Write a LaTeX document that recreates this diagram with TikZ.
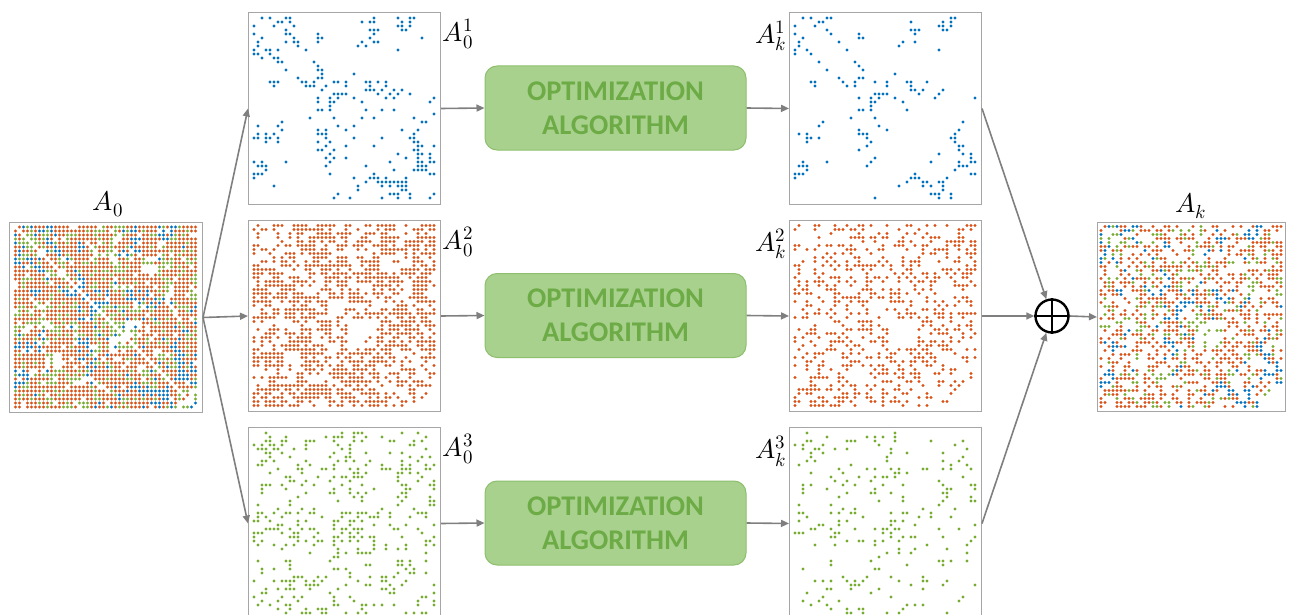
\documentclass[tikz,border=0pt]{standalone}
\usepackage{fontspec}
\usepackage{unicode-math}
\setmathfont{Latin Modern Math}
\newfontfamily\optfont{Carlito}
\usetikzlibrary{arrows.meta}
\definecolor{mblue}{HTML}{0072BD}
\definecolor{morange}{HTML}{D95319}
\definecolor{mgreen}{HTML}{77AC30}
\definecolor{framegray}{HTML}{A6A6A6}
\definecolor{arrgray}{HTML}{7F7F7F}
\definecolor{optfill}{HTML}{A9D18E}
\definecolor{optedge}{HTML}{8DBF6E}
\definecolor{opttext}{HTML}{6CAB45}
\newcommand\dotpair[3]{%
  \fill[#3] (#1+4*\j,#2+4*\i) circle[radius=1.65];
  \fill[#3] (#1+4*\i,#2+4*\j) circle[radius=1.65];}
\begin{document}
\begin{tikzpicture}[x=1pt,y=-1pt,
  mat/.style={draw=framegray,line width=1pt,inner sep=0pt,anchor=north west,minimum width=192pt,minimum height=192pt},
  optbox/.style={draw=optedge,fill=optfill,line width=1pt,rounded corners=12pt,minimum width=261pt,minimum height=84pt,text=opttext,align=center,font=\optfont\bfseries\fontsize{28.5}{34}\selectfont},
  arr/.style={draw=arrgray,line width=1.6pt,-{Triangle[length=8pt,width=7pt]}},
  lab/.style={font=\fontsize{27}{30}\selectfont,inner sep=0pt}]
\useasboundingbox (0,0) rectangle (1295,615);
% random dot matrices
\pgfmathsetseed{31415}
\foreach \I in {0,...,11}{\foreach \J in {\I,...,11}{%
  \pgfmathsetmacro\tmpb{0.65*rnd^3}%
  \pgfmathsetmacro\tmpo{0.85*(1-rnd*rnd)}%
  \pgfmathsetmacro\tmpg{0.45+0.5*rnd}%
  \expandafter\xdef\csname bB\I-\J\endcsname{\tmpb}%
  \expandafter\xdef\csname bO\I-\J\endcsname{\tmpo}%
  \expandafter\xdef\csname bG\I-\J\endcsname{\tmpg}%
}}
\foreach \i in {0,...,45}{\foreach \j in {\i,...,45}{%
  \pgfmathtruncatemacro\blkI{\i/4}%
  \pgfmathtruncatemacro\blkJ{\j/4}%
  \edef\pB{\csname bB\blkI-\blkJ\endcsname}%
  \edef\pO{\csname bO\blkI-\blkJ\endcsname}%
  \edef\pG{\csname bG\blkI-\blkJ\endcsname}%
  \pgfmathtruncatemacro\cat{rnd<\pB ? 1 : (rnd<\pO ? 2 : (rnd<\pG ? 3 : 0))}%
  \ifnum\i=\j \def\cat{0}\fi
  \pgfmathtruncatemacro\keep{rnd<0.6 ? 1 : 0}%
  \ifnum\cat>0
    \ifcase\cat\or\def\cc{mblue}\def\my{18}\or\def\cc{morange}\def\my{225.5}\or\def\cc{mgreen}\def\my{433}\fi
    \dotpair{15.5}{227}{\cc}
    \dotpair{254}{\my}{\cc}
    \ifnum\keep=1
      \dotpair{795}{\my}{\cc}
      \dotpair{1101}{226.5}{\cc}
    \fi
  \fi
}}
% frames
\node[mat,minimum width=193pt,minimum height=190pt] (a0) at (9,222) {};
\node[mat] (m1) at (248,12) {};
\node[mat,minimum height=191pt] (m2) at (248,220) {};
\node[mat] (m3) at (248,427) {};
\node[mat] (r1) at (789,12) {};
\node[mat,minimum height=191pt] (r2) at (789,220) {};
\node[mat] (r3) at (789,427) {};
\node[mat,minimum width=188pt,minimum height=189pt] (ak) at (1097,222) {};
% labels
\node[lab] (la0) at (108,204) {$A_0$};
\node[lab] (lak) at (1191,206) {$A_k$};
\node[lab] (l01) at (458,34) {$A_0^1$};
\node[lab] (l02) at (458,242) {$A_0^2$};
\node[lab] (l03) at (458,449) {$A_0^3$};
\node[lab] (lk1) at (771,36) {$A_k^1$};
\node[lab] (lk2) at (771,244) {$A_k^2$};
\node[lab] (lk3) at (771,451) {$A_k^3$};
% optimization boxes
\node[optbox] (o1) at (615.5,108) {OPTIMIZATION\\ALGORITHM};
\node[optbox] (o2) at (615.5,315.5) {OPTIMIZATION\\ALGORITHM};
\node[optbox] (o3) at (615.5,523) {OPTIMIZATION\\ALGORITHM};
% oplus
\node[draw=black,circle,line width=2.4pt,minimum size=33pt,inner sep=0pt] (op) at (1052,316) {};
\draw[line width=2.4pt] (op.north) -- (op.south) (op.west) -- (op.east);
% connectors
\draw[arr] (a0.east) -- (m1.west);
\draw[arr] (a0.east) -- (m2.west);
\draw[arr] (a0.east) -- (m3.west);
\draw[arr] (m1.east) -- (o1.west);
\draw[arr] (m2.east) -- (o2.west);
\draw[arr] (m3.east) -- (o3.west);
\draw[arr] (o1.east) -- (r1.west);
\draw[arr] (o2.east) -- (r2.west);
\draw[arr] (o3.east) -- (r3.west);
\draw[arr] (r1.east) -- (op);
\draw[arr] (r2.east) -- (op);
\draw[arr] (r3.east) -- (op);
\draw[arr] (op.east) -- (ak.west);
\end{tikzpicture}
\end{document}
